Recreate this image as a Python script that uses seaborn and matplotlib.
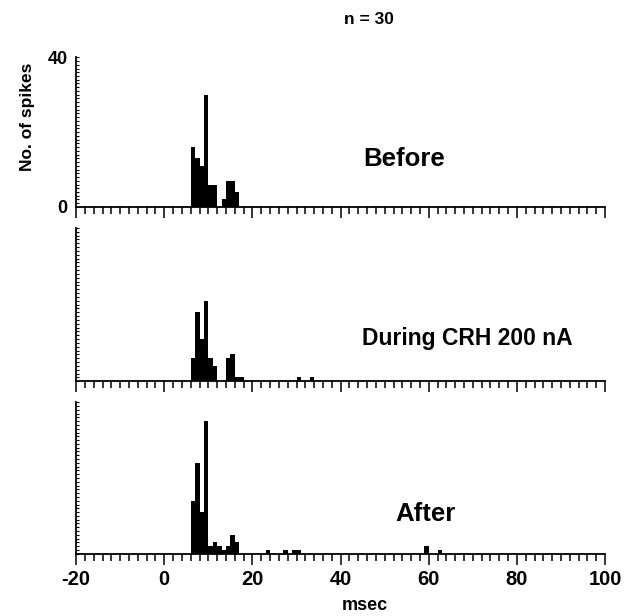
import matplotlib
matplotlib.use("Agg")
import matplotlib.pyplot as plt
import numpy as np
import pandas as pd
import seaborn as sns
from matplotlib.ticker import MultipleLocator

# spike counts per 1 ms bin, keyed by bin start (msec)
before_bins = [6, 7, 8, 9, 10, 11, 12, 13, 14, 15, 16]
before_counts = [16, 13, 11, 30, 6, 6, 0, 2, 7, 7, 4]

during_bins = [6, 7, 8, 9, 10, 11, 12, 13, 14, 15, 16, 17, 30, 33]
during_counts = [6, 18, 11, 21, 6, 4, 0, 0, 6, 7, 1, 1, 1, 1]

after_bins = [6, 7, 8, 9, 10, 11, 12, 13, 14, 15, 16, 23, 27, 29, 30, 59, 62]
after_counts = [14, 24, 11, 35, 2, 3, 2, 1, 2, 5, 3, 1, 1, 1, 1, 2, 1]

panel_labels = ["Before", "During CRH 200 nA", "After"]
label_pos = [(0.62, 0.32), (0.74, 0.28), (0.66, 0.26)]
label_size = [18.5, 16.5, 18.5]
x_ticks = [-20, 0, 20, 40, 60, 80, 100]

sns.set_theme(style="ticks")
plt.rcParams['font.family'] = ['Liberation Sans', 'DejaVu Sans']
plt.rcParams['font.weight'] = 'bold'
for k in ['text.color', 'axes.labelcolor', 'xtick.color', 'ytick.color']:
    plt.rcParams[k] = 'black'

fig = plt.figure(figsize=(6.29, 6.16), dpi=100)
rects = [[0.121, 0.664, 0.841, 0.243],
         [0.121, 0.381, 0.841, 0.249],
         [0.121, 0.101, 0.841, 0.246]]

data = [(before_bins, before_counts), (during_bins, during_counts), (after_bins, after_counts)]
for i, (bins, counts) in enumerate(data):
    ax = fig.add_axes(rects[i])
    df = pd.DataFrame({'t': np.array(bins) + 0.5, 'n': counts})
    sns.histplot(data=df, x='t', weights='n', binwidth=1, binrange=(-20, 100),
                 color='black', edgecolor='black', linewidth=0, alpha=1, ax=ax)
    ax.set_xlim(-20, 100)
    ax.set_ylim(0, 40)
    sns.despine(ax=ax)
    for s in ['left', 'bottom']:
        ax.spines[s].set_linewidth(1.3)
        ax.spines[s].set_color('black')
    ax.set_xlabel('')
    ax.set_ylabel('')
    ax.xaxis.set_major_locator(plt.FixedLocator(x_ticks))
    ax.xaxis.set_minor_locator(MultipleLocator(2))
    ax.tick_params(axis='x', which='major', direction='out', length=8, width=1.1, color='black')
    ax.tick_params(axis='x', which='minor', direction='out', length=5, width=1.1, color='black')
    ax.yaxis.set_major_locator(plt.FixedLocator([0, 40]))
    ax.yaxis.set_minor_locator(MultipleLocator(1))
    ax.tick_params(axis='y', which='both', direction='in', length=2.5, width=0.8, color='black')
    ax.text(label_pos[i][0], label_pos[i][1], panel_labels[i], transform=ax.transAxes,
            ha='center', va='center', fontsize=label_size[i], fontweight='bold')
    if i == 0:
        ax.set_yticklabels(['0', '40'], fontsize=13, fontweight='bold')
        ax.tick_params(axis='y', pad=6)
        ax.set_ylabel('No. of spikes', fontsize=12.5, fontweight='bold')
        ax.yaxis.set_label_coords(-0.077, 0.6)
    else:
        ax.set_yticklabels([])
    if i == 2:
        ax.set_xticklabels([str(v) for v in x_ticks], fontsize=14.5, fontweight='bold')
    else:
        ax.set_xticklabels([])

fig.text(0.58, 0.017, 'msec', ha='center', va='center', fontsize=13, fontweight='bold')
fig.text(0.587, 0.969, 'n = 30', ha='center', va='center', fontsize=12.5, fontweight='bold')

fig.savefig('out.png', dpi=100)
